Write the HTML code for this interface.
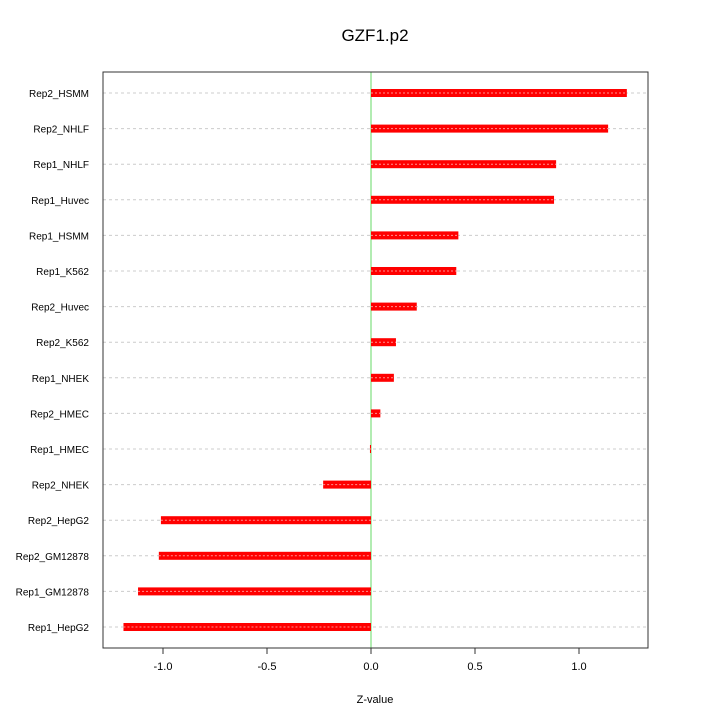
<!DOCTYPE html>
<html><head><meta charset="utf-8"><style>body{margin:0;background:#fff}svg{display:block;font-family:"Liberation Sans",sans-serif}</style></head>
<body>
<svg id="c" width="720" height="720">
<text x="375" y="41" text-anchor="middle" font-size="17">GZF1.p2</text>
<text x="375" y="703" text-anchor="middle" font-size="11">Z-value</text>
</svg>
<script>
const categories=["Rep2_HSMM","Rep2_NHLF","Rep1_NHLF","Rep1_Huvec","Rep1_HSMM","Rep1_K562","Rep2_Huvec","Rep2_K562","Rep1_NHEK","Rep2_HMEC","Rep1_HMEC","Rep2_NHEK","Rep2_HepG2","Rep2_GM12878","Rep1_GM12878","Rep1_HepG2"];
const values=[1.23,1.14,0.89,0.88,0.42,0.41,0.22,0.12,0.11,0.045,-0.005,-0.23,-1.01,-1.02,-1.12,-1.19];
const ticks=[-1.0,-0.5,0.0,0.5,1.0];
const tickLabels=["-1.0","-0.5","0.0","0.5","1.0"];
const svg=document.getElementById('c');const NS='http://www.w3.org/2000/svg';
const L=103,R=648,T=72,B=648;
const x=v=>371+v*208;
const y=i=>93+i*(627-93)/(categories.length-1);
function mk(t,a,p){const e=document.createElementNS(NS,t);for(const k in a)e.setAttribute(k,a[k]);(p||svg).appendChild(e);return e;}
categories.forEach((c,i)=>{
 const g=mk('line',{x1:L,x2:R,y1:y(i),y2:y(i),stroke:'#ccc','stroke-dasharray':'3,3','stroke-width':1});
 
 
 const t=mk('text',{x:89,y:y(i)+4,'text-anchor':'end','font-size':10});t.textContent=c;
 
 
});
const zl=mk('line',{x1:x(0),x2:x(0),y1:T,y2:B,stroke:'#7ee07e','stroke-width':1.2});


values.forEach((v,i)=>{
 const x0=Math.min(x(0),x(v)),w=Math.max(Math.abs(x(v)-x(0)),1);
 const b=mk('rect',{x:x0,y:y(i)-4,width:w,height:8,fill:'#ff0000'});
 
 
 const d=mk('line',{x1:x0,x2:x0+w,y1:y(i),y2:y(i),stroke:'#ff9090','stroke-dasharray':'2,2','stroke-width':1});
 
 
});
const box=mk('rect',{x:L,y:T,width:R-L,height:B-T,fill:'none',stroke:'#333','stroke-width':1});


ticks.forEach((v,i)=>{
 const tk=mk('line',{x1:x(v),x2:x(v),y1:B,y2:B+6,stroke:'#333'});
 
 
 const t=mk('text',{x:x(v),y:B+22,'text-anchor':'middle','font-size':11});t.textContent=tickLabels[i];
 
 
});
</script>
</body></html>
